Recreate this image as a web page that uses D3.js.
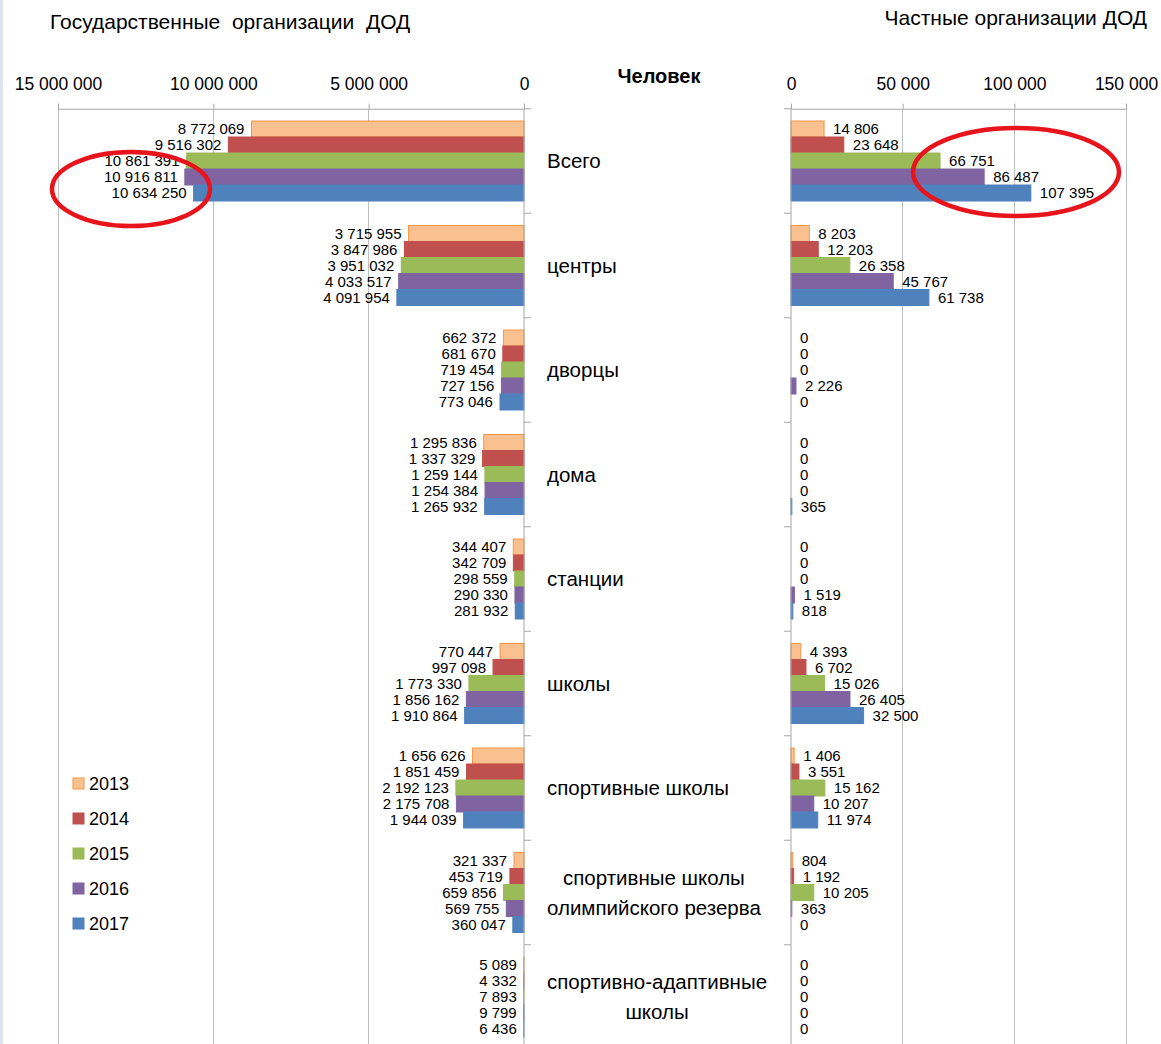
<!DOCTYPE html>
<html><head><meta charset="utf-8">
<script src="https://cdn.jsdelivr.net/npm/d3@7"></script>
<style>
html,body{margin:0;padding:0;background:#fff;}
svg text{font-family:"Liberation Sans",Arial,sans-serif;fill:#000;}
</style></head>
<body><svg id="c" width="1161" height="1044"></svg>
<script>
const categories = ["Всего","центры","дворцы","дома","станции","школы","спортивные школы","спортивные школы|олимпийского резерва","спортивно-адаптивные|школы"];
const years = ["2013","2014","2015","2016","2017"];
const colors = ["#FAC090","#C0504D","#9BBB59","#8064A2","#4F81BD"];
const strokes = ["#F79646","#C0504D","#9BBB59","#8064A2","#4F81BD"];
// государственные организации, по годам 2013..2017
const gov2013 = [8772069,3715955,662372,1295836,344407,770447,1656626,321337,5089];
const gov2014 = [9516302,3847986,681670,1337329,342709,997098,1851459,453719,4332];
const gov2015 = [10861391,3951032,719454,1259144,298559,1773330,2192123,659856,7893];
const gov2016 = [10916811,4033517,727156,1254384,290330,1856162,2175708,569755,9799];
const gov2017 = [10634250,4091954,773046,1265932,281932,1910864,1944039,360047,6436];
// частные организации
const pri2013 = [14806,8203,0,0,0,4393,1406,804,0];
const pri2014 = [23648,12203,0,0,0,6702,3551,1192,0];
const pri2015 = [66751,26358,0,0,0,15026,15162,10205,0];
const pri2016 = [86487,45767,2226,0,1519,26405,10207,363,0];
const pri2017 = [107395,61738,0,365,818,32500,11974,0,0];
const govTicks = [0,5000000,10000000,15000000];
const priTicks = [0,50000,100000,150000];
const titleLeft = "Государственные  организации  ДОД";
const titleRight = "Частные организации ДОД";
const unitLabel = "Человек";

const govSeries = [gov2013,gov2014,gov2015,gov2016,gov2017];
const priSeries = [pri2013,pri2014,pri2015,pri2016,pri2017];

const svg = d3.select("#c");
const fmt = v => d3.format(",")(v).replace(/,/g," ");

svg.append("rect").attr("x",0).attr("y",0).attr("width",3).attr("height",1044).attr("fill","#dce6f2");

const xL = d3.scaleLinear().domain([0,15000000]).range([524,58]);
const xR = d3.scaleLinear().domain([0,150000]).range([791,1126]);
const y = d3.scaleBand().domain(categories).range([108.75,1049.25]).paddingInner(0.2344).paddingOuter(0.1172);
const yy = d3.scaleBand().domain(years).range([0,y.bandwidth()]);
const top0 = 108.75, bot0 = 1049.25;

// gridlines
function grid(scale, ticks){
  svg.append("g").selectAll("line").data(ticks).join("line")
    .attr("x1",d=>scale(d)).attr("x2",d=>scale(d))
    .attr("y1",top0).attr("y2",bot0)
    .attr("stroke","#bfbfbf").attr("stroke-width",1).attr("shape-rendering","crispEdges");
}
grid(xL, govTicks.slice(1));
grid(xR, priTicks.slice(1));

// value axes on top
function valAxis(scale, ticks){
  const g = svg.append("g").attr("transform",`translate(0,${top0})`)
    .call(d3.axisTop(scale).tickValues(ticks).tickFormat(fmt).tickSize(5).tickPadding(14));
  g.select(".domain").attr("stroke","#a6a6a6");
  g.selectAll(".tick line").attr("stroke","#a6a6a6");
  g.selectAll("text").style("font-size","17.5px").attr("fill","#000").attr("font-family",null);
}
valAxis(xL, govTicks);
valAxis(xR, priTicks);

// bars
function bars(scale, series, right){
  series.forEach((vals,i)=>{
    const g = svg.append("g");
    g.selectAll("rect").data(vals).join("rect")
      .attr("x",d=>Math.min(scale(0),scale(d)))
      .attr("width",d=>Math.abs(scale(d)-scale(0)))
      .attr("y",(d,j)=>y(categories[j])+yy(years[i]))
      .attr("height",yy.bandwidth())
      .attr("fill",colors[i]).attr("stroke",strokes[i]).attr("stroke-width",1);
    g.selectAll("text").data(vals).join("text")
      .attr("x",d=> right ? scale(d)+9 : scale(d)-7)
      .attr("y",(d,j)=>y(categories[j])+yy(years[i])+yy.bandwidth()/2)
      .attr("dy","0.35em")
      .attr("text-anchor", right ? "start":"end")
      .style("font-size","15px")
      .text(fmt);
  });
}
bars(xL, govSeries, false);
bars(xR, priSeries, true);

// category axes
function catAxis(x0, dir){
  const g = svg.append("g");
  g.append("line").attr("x1",x0).attr("x2",x0).attr("y1",top0).attr("y2",bot0).attr("stroke","#a6a6a6");
  const bounds = d3.range(categories.length+1).map(i=>top0+i*y.step());
  g.selectAll(".t").data(bounds).join("line").attr("class","t")
    .attr("x1",x0).attr("x2",x0+dir*7).attr("y1",d=>d).attr("y2",d=>d).attr("stroke","#a6a6a6");
}
catAxis(xL(0), 1);
catAxis(xR(0), -1);

// category labels
const cl = svg.append("g");
const cfs = "20.5px";
categories.forEach(c=>{
  const lines = c.split("|");
  const cy = y(c)+y.bandwidth()/2;
  const t = cl.append("text").style("font-size",cfs);
  if(lines.length===1){
    t.attr("x",547).attr("y",cy).attr("dy","0.35em").text(lines[0]);
  } else {
    let maxW = 0;
    lines.forEach(l=>{const tmp=cl.append("text").style("font-size",cfs).text(l);maxW=Math.max(maxW,tmp.node().getComputedTextLength());tmp.remove();});
    t.attr("text-anchor","middle");
    lines.forEach((l,k)=>{
      t.append("tspan").attr("x",547+maxW/2).attr("y",cy+(k-(lines.length-1)/2)*30).attr("dy","0.35em").text(l);
    });
  }
});

// titles
svg.append("text").attr("x",50).attr("y",29).style("font-size","21px").style("white-space","pre").attr("xml:space","preserve").text(titleLeft);
svg.append("text").attr("x",1147).attr("y",25).attr("text-anchor","end").style("font-size","21px").text(titleRight);
svg.append("text").attr("x",659).attr("y",83).attr("text-anchor","middle").style("font-size","20px").style("font-weight","bold").text(unitLabel);

// legend
const lg = svg.append("g");
years.forEach((yr,i)=>{
  const ly = 784 + i*35;
  lg.append("rect").attr("x",73).attr("y",ly-6).attr("width",11).attr("height",11).attr("fill",colors[i]).attr("stroke",strokes[i]);
  lg.append("text").attr("x",89).attr("y",ly).attr("dy","0.35em").style("font-size","18px").text(yr);
});

// annotation ellipses
svg.append("ellipse").attr("cx",131).attr("cy",189).attr("rx",79).attr("ry",37).attr("fill","none").attr("stroke","#e8141b").attr("stroke-width",4.5);
svg.append("ellipse").attr("cx",1016).attr("cy",172).attr("rx",103).attr("ry",44).attr("fill","none").attr("stroke","#e8141b").attr("stroke-width",4.5);
</script></body></html>
